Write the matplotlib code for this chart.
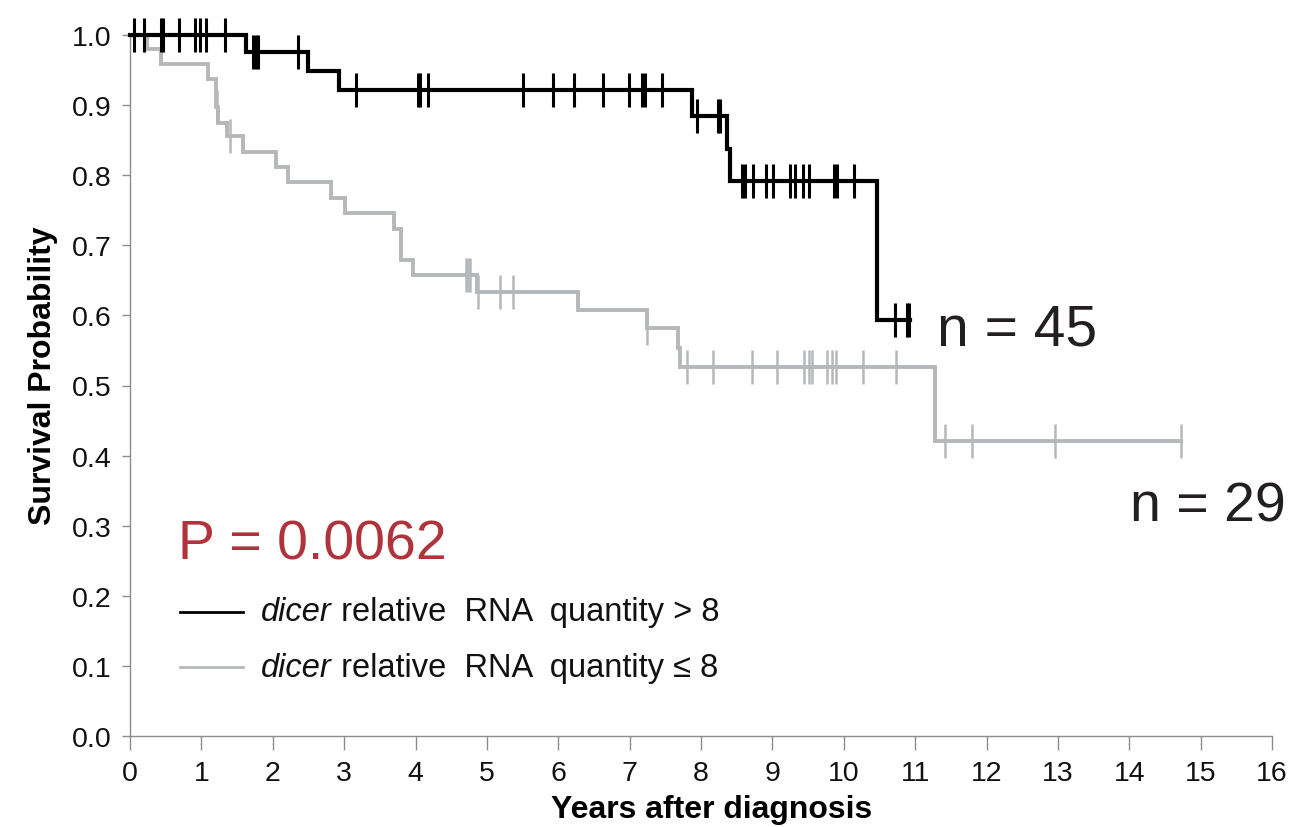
import matplotlib
matplotlib.use('Agg')
import matplotlib.pyplot as plt
import numpy as np

# Kaplan-Meier steps (years, survival)
black_times = [0, 1.63, 2.50, 2.93, 7.87, 8.37, 8.41, 10.46]
black_surv = [1.0, 0.976, 0.948, 0.922, 0.885, 0.838, 0.792, 0.593]
black_end = 10.93
black_censor = [0.05, 0.20, 0.44, 0.46, 0.68, 0.91, 0.98, 1.06, 1.33,
                1.72, 1.76, 1.79, 2.35, 3.17, 4.03, 4.06, 4.18, 5.51,
                5.92, 6.22, 6.62, 6.99, 7.17, 7.22, 7.46, 7.94, 8.24,
                8.26, 8.57, 8.61, 8.73, 8.91, 9.01, 9.25, 9.31, 9.43,
                9.52, 9.86, 9.91, 10.15, 10.72, 10.88, 10.92]

gray_times = [0, 0.24, 0.43, 1.09, 1.21, 1.23, 1.36, 1.59, 2.04, 2.22,
              2.82, 3.01, 3.70, 3.80, 3.97, 4.86, 6.28, 7.24, 7.68,
              7.70, 11.28]
gray_surv = [1.0, 0.980, 0.959, 0.937, 0.897, 0.875, 0.856, 0.833,
             0.811, 0.790, 0.767, 0.746, 0.723, 0.679, 0.658, 0.634,
             0.608, 0.582, 0.554, 0.527, 0.421]
gray_end = 14.72
gray_censor = [1.22, 1.40, 4.71, 4.73, 4.76, 4.88, 5.19, 5.36, 7.25,
               7.80, 8.17, 8.72, 9.06, 9.45, 9.51, 9.56, 9.77, 9.83,
               9.89, 10.27, 10.73, 11.42, 11.80, 12.96, 14.72]

legend_labels = ['relative  RNA  quantity > 8', 'relative  RNA  quantity \u2264 8']
p_text = 'P = 0.0062'
n_labels = ['n = 45', 'n = 29']

BLACK = '#000000'
GRAY = '#b5b8ba'
RED = '#b0323b'

plt.rcParams['font.family'] = ['Liberation Sans', 'DejaVu Sans']


def surv_at(times, surv, t):
    idx = np.searchsorted(times, t, side='right') - 1
    return np.array(surv)[idx]


def draw_curve(ax, times, surv, end, censor, color, lw, ms, mew):
    xs = list(times) + [end]
    ys = list(surv) + [surv[-1]]
    ax.step(xs, ys, where='post', color=color, lw=lw, clip_on=False,
            solid_joinstyle='miter', zorder=3)
    cy = surv_at(times, surv, censor)
    ax.plot(censor, cy, ls='none', marker='|', color=color, ms=ms,
            mew=mew, clip_on=False, zorder=4)


fig = plt.figure(figsize=(12.92, 8.28), dpi=100)
ax = fig.add_axes([130 / 1292, 1 - 737 / 828, 1142 / 1292, 701 / 828])

draw_curve(ax, gray_times, gray_surv, gray_end, gray_censor, GRAY, 2.8, 25, 1.8)
draw_curve(ax, black_times, black_surv, black_end, black_censor, BLACK, 3.0, 25, 2.2)

ax.set_xlim(0, 16)
ax.set_ylim(0, 1.0)
ax.set_xticks(np.arange(0, 17, 1))
ax.set_yticks(np.arange(0, 1.01, 0.1))
ax.set_yticklabels([f'{v:.1f}' for v in np.arange(0, 1.01, 0.1)])
for s in ['top', 'right']:
    ax.spines[s].set_visible(False)
for s in ['left', 'bottom']:
    ax.spines[s].set_color('#8c8c8c')
    ax.spines[s].set_linewidth(1.0)
ax.tick_params(axis='x', direction='out', length=10, width=1, color='#8c8c8c',
               pad=7, labelsize=20.5, labelcolor='#111111')
ax.tick_params(axis='y', direction='out', length=6, width=1, color='#8c8c8c',
               pad=7, labelsize=20.5, labelcolor='#111111')

ax.set_xlabel('Years after diagnosis', fontsize=23, fontweight='bold')
ax.set_ylabel('Survival Probability', fontsize=23, fontweight='bold')
ax.xaxis.set_label_coords(0.5096, -0.083)
ax.yaxis.set_label_coords(-0.063, 0.516)

ax.text(0.67, 0.2525, p_text, color=RED, fontsize=40, va='baseline', ha='left')
ax.text(11.31, 0.559, n_labels[0], color='#231f20', fontsize=41, va='baseline')
ax.text(14.01, 0.307, n_labels[1], color='#231f20', fontsize=40, va='baseline')

# hand-made legend
for y, col, lab in [(0.177, BLACK, legend_labels[0]), (0.098, GRAY, legend_labels[1])]:
    ax.plot([0.70, 1.58], [y, y], color=col, lw=2.0, clip_on=False)
    t1 = ax.text(1.84, y, 'dicer', style='italic', fontsize=23.5, va='center',
                 color='#111111')
    ax.annotate(' ' + lab, xy=(1, 0.5), xycoords=t1, va='center', ha='left',
                fontsize=23.5, color='#111111')

fig.savefig('out.png', dpi=100)
